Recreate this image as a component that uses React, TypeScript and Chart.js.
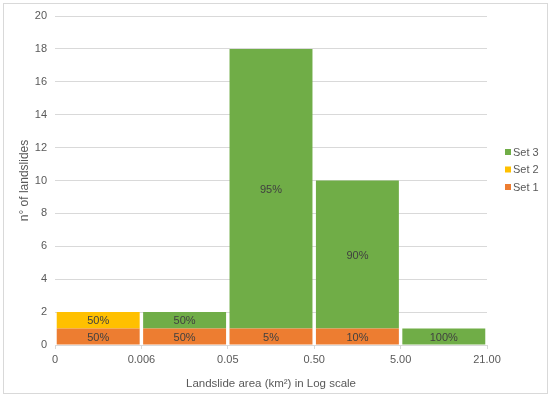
import React, { useEffect, useRef } from "react";
import { Chart, registerables } from "chart.js";

Chart.register(...registerables);

const bins = ["0-0.006", "0.006-0.05", "0.05-0.50", "0.50-5.00", "5.00-21.00"];
const edgeLabels = ["0", "0.006", "0.05", "0.50", "5.00", "21.00"];
const set1 = [1, 1, 1, 1, 0];
const set2 = [1, 0, 0, 0, 0];
const set3 = [0, 1, 17, 9, 1];
const set1Pct = ["50%", "50%", "5%", "10%", ""];
const set2Pct = ["50%", "", "", "", ""];
const set3Pct = ["", "50%", "95%", "90%", "100%"];

const FONT = "'Liberation Sans', Arial, sans-serif";

const labelPlugin = {
  id: "pctLabels",
  afterDatasetsDraw(chart: any) {
    const ctx = chart.ctx;
    const pcts = [set1Pct, set2Pct, set3Pct];
    ctx.save();
    ctx.font = `11px ${FONT}`;
    ctx.fillStyle = "#404040";
    ctx.textAlign = "center";
    ctx.textBaseline = "middle";
    chart.data.datasets.forEach((ds: any, i: number) => {
      const meta = chart.getDatasetMeta(i);
      meta.data.forEach((el: any, j: number) => {
        const t = pcts[i][j];
        if (!t || !ds.data[j]) return;
        ctx.fillText(t, el.x, (el.y + el.base) / 2 + 1);
      });
    });
    ctx.restore();
  },
};

const legendPlugin = {
  id: "customLegend",
  afterDraw(chart: any) {
    const ctx = chart.ctx;
    const items = [
      { t: "Set 3", c: "#70AD47" },
      { t: "Set 2", c: "#FFC000" },
      { t: "Set 1", c: "#ED7D31" },
    ];
    ctx.save();
    ctx.font = `11px ${FONT}`;
    ctx.textBaseline = "middle";
    ctx.textAlign = "left";
    items.forEach((it, k) => {
      const y = 152 + k * 17.5;
      ctx.fillStyle = it.c;
      ctx.fillRect(505, y - 3, 6, 6);
      ctx.fillStyle = "#595959";
      ctx.fillText(it.t, 513, y + 0.5);
    });
    ctx.restore();
  },
};

export default function App() {
  const ref = useRef<HTMLCanvasElement>(null);
  useEffect(() => {
    const chart = new Chart(ref.current!, {
      type: "bar",
      data: {
        labels: bins,
        datasets: [
          { label: "Set 1", data: set1, backgroundColor: "#ED7D31", barPercentage: 0.96, categoryPercentage: 1 },
          { label: "Set 2", data: set2, backgroundColor: "#FFC000", barPercentage: 0.96, categoryPercentage: 1 },
          { label: "Set 3", data: set3, backgroundColor: "#70AD47", barPercentage: 0.96, categoryPercentage: 1 },
        ],
      },
      options: {
        responsive: false,
        animation: false,
        layout: { padding: { top: 16, right: 63, left: 0, bottom: 0 } },
        plugins: { legend: { display: false }, tooltip: { enabled: false } },
        scales: {
          x: { stacked: true, display: false },
          x2: {
            type: "linear",
            position: "bottom",
            min: 0,
            max: 5,
            offset: false,
            afterBuildTicks: (s: any) => {
              s.ticks = [0, 1, 2, 3, 4, 5].map((v) => ({ value: v }));
            },
            afterFit: (s: any) => {
              s.height = 52;
            },
            grid: { drawOnChartArea: false, offset: false, color: "#D9D9D9", tickLength: 4 },
            border: { display: true, color: "#D9D9D9" },
            ticks: {
              color: "#595959",
              font: { family: FONT, size: 11 },
              padding: 4,
              maxRotation: 0,
              autoSkip: false,
              callback: (v: any) => edgeLabels[Math.round(Number(v))],
            },
            title: {
              display: true,
              text: "Landslide area (km²) in Log scale",
              color: "#595959",
              font: { family: FONT, size: 11.5 },
              padding: { top: 4, bottom: 6 },
            },
          },
          y: {
            stacked: true,
            min: 0,
            max: 20,
            afterFit: (s: any) => {
              s.width = 55;
            },
            ticks: { stepSize: 2, color: "#595959", font: { family: FONT, size: 11 }, padding: 8 },
            grid: { color: "#D9D9D9", drawTicks: false },
            border: { display: false },
            title: {
              display: true,
              text: "n° of landslides",
              color: "#595959",
              font: { family: FONT, size: 12 },
              padding: { top: 17, bottom: 0 },
            },
          },
        },
      },
      plugins: [labelPlugin, legendPlugin],
    } as any);
    return () => chart.destroy();
  }, []);
  return (
    <div style={{ position: "fixed", left: 0, top: 0, width: 550, height: 397, background: "#fff" }}>
      <canvas ref={ref} width={550} height={397} style={{ position: "absolute", left: 0, top: 0 }} />
      <div
        style={{
          position: "absolute",
          left: 3,
          top: 3,
          width: 543,
          height: 389,
          border: "1px solid #D9D9D9",
          pointerEvents: "none",
        }}
      />
    </div>
  );
}
